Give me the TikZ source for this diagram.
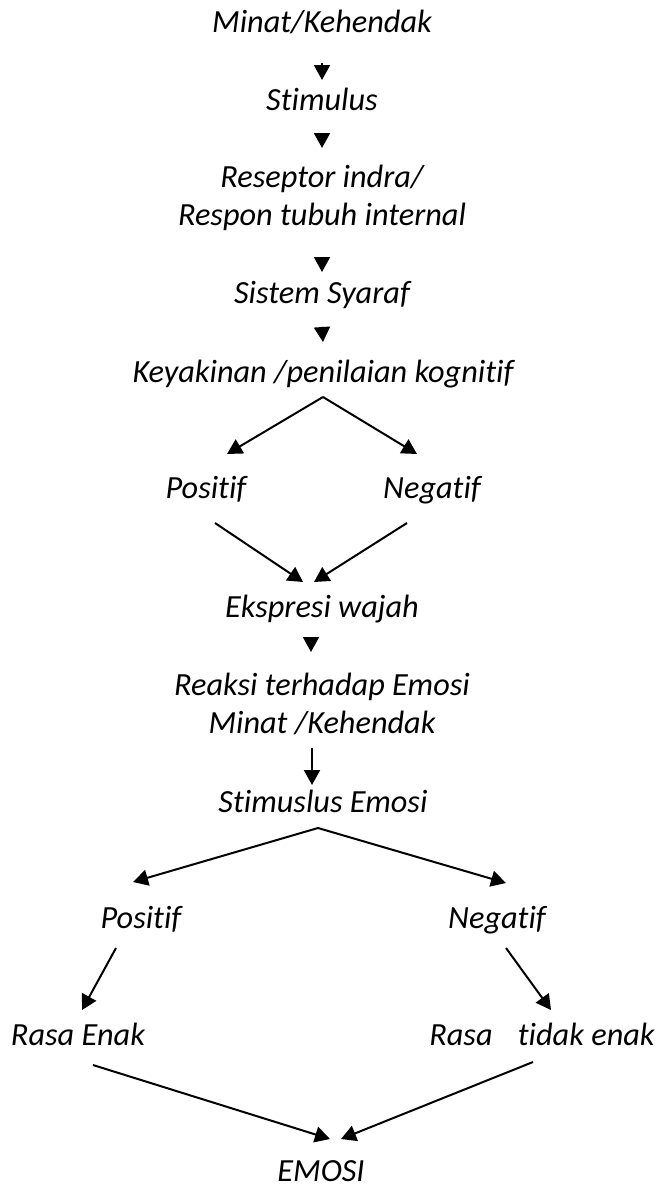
\documentclass[tikz,border=0pt]{standalone}
\usepackage{fontspec}
\setmainfont{Carlito}[RawFeature={-liga;-clig;-dlig}]
\usepackage{tikz}
\usetikzlibrary{positioning,arrows.meta}

\begin{document}
\begin{tikzpicture}[x=1pt,y=-1pt,
    txt/.style={anchor=base,inner sep=0pt,align=center,font=\fontsize{32.3pt}{38pt}\selectfont\itshape},
    arr/.style={line width=2pt,-{Triangle[length=15pt,width=16pt]}}]
        \useasboundingbox (0,0) rectangle (656,1186);% page
        \node[txt] (minat) at (322,32) {Minat/Kehendak};
        \node[txt] (stim) at (322,110) {Stimulus};
        \node[txt] (resep) at (322,225) {Reseptor indra/\\Respon tubuh internal};
        \node[txt] (syaraf) at (322,303) {Sistem Syaraf};
        \node[txt] (kog) at (323,382) {Keyakinan /penilaian kognitif};
        \node[txt] (pos1) at (206,498) {Positif};
        \node[txt] (neg1) at (432,498) {Negatif};
        \node[txt] (ekspr) at (322,617) {Ekspresi wajah};
        \node[txt] (reaksi) at (322,733) {Reaksi terhadap Emosi\\Minat /Kehendak};
        \node[txt] (stimemo) at (323,812) {Stimuslus Emosi};
        \node[txt] (pos2) at (141,928) {Positif};
        \node[txt] (neg2) at (497,928) {Negatif};
        \node[txt] (enak) at (78,1045) {Rasa Enak};
        \node[txt] (tdkenak) at (542,1045) {Rasa\hspace{18pt} tidak enak};
        \node[txt] (emosi) at (321,1181) {EMOSI};

        \draw[arr] ([yshift=-31pt]minat.base) -- ([yshift=30pt]stim.base);
        \draw[arr] ([yshift=-23pt]stim.base) -- ([yshift=77pt]resep.base);
        \draw[arr] ([yshift=-32pt]resep.base) -- ([yshift=31pt]syaraf.base);
        \draw[arr] ([yshift=-24pt]syaraf.base) -- ([yshift=40pt]kog.base);
        \draw[arr] ([yshift=-15pt]kog.base) -- ([xshift=21pt,yshift=44pt]pos1.base);
        \draw[arr] ([yshift=-15pt]kog.base) -- ([xshift=-15pt,yshift=44pt]neg1.base);
        \draw[arr] ([xshift=9pt,yshift=-25pt]pos1.base) -- ([xshift=-19pt,yshift=35pt]ekspr.base);
        \draw[arr] ([xshift=-25pt,yshift=-25pt]neg1.base) -- ([xshift=-8pt,yshift=35pt]ekspr.base);
        \draw[arr] ([xshift=-11pt,yshift=-20pt]ekspr.base) -- ([xshift=-11pt,yshift=81pt]reaksi.base);
        \draw[arr] ([xshift=-10pt,yshift=-15pt]reaksi.base) -- ([xshift=-11pt,yshift=27pt]stimemo.base);
        \draw[arr] ([xshift=-5pt,yshift=-16pt]stimemo.base) -- ([xshift=-8pt,yshift=46pt]pos2.base);
        \draw[arr] ([xshift=-5pt,yshift=-16pt]stimemo.base) -- ([xshift=9pt,yshift=45pt]neg2.base);
        \draw[arr] ([xshift=-25pt,yshift=-20pt]pos2.base) -- ([xshift=4pt,yshift=35pt]enak.base);
        \draw[arr] ([xshift=9pt,yshift=-20pt]neg2.base) -- ([xshift=9pt,yshift=35pt]tdkenak.base);
        \draw[arr] ([xshift=15pt,yshift=-20pt]enak.base) -- ([xshift=9pt,yshift=42pt]emosi.base);
        \draw[arr] ([xshift=-9pt,yshift=-17pt]tdkenak.base) -- ([xshift=20pt,yshift=42pt]emosi.base);
\end{tikzpicture}
\end{document}
